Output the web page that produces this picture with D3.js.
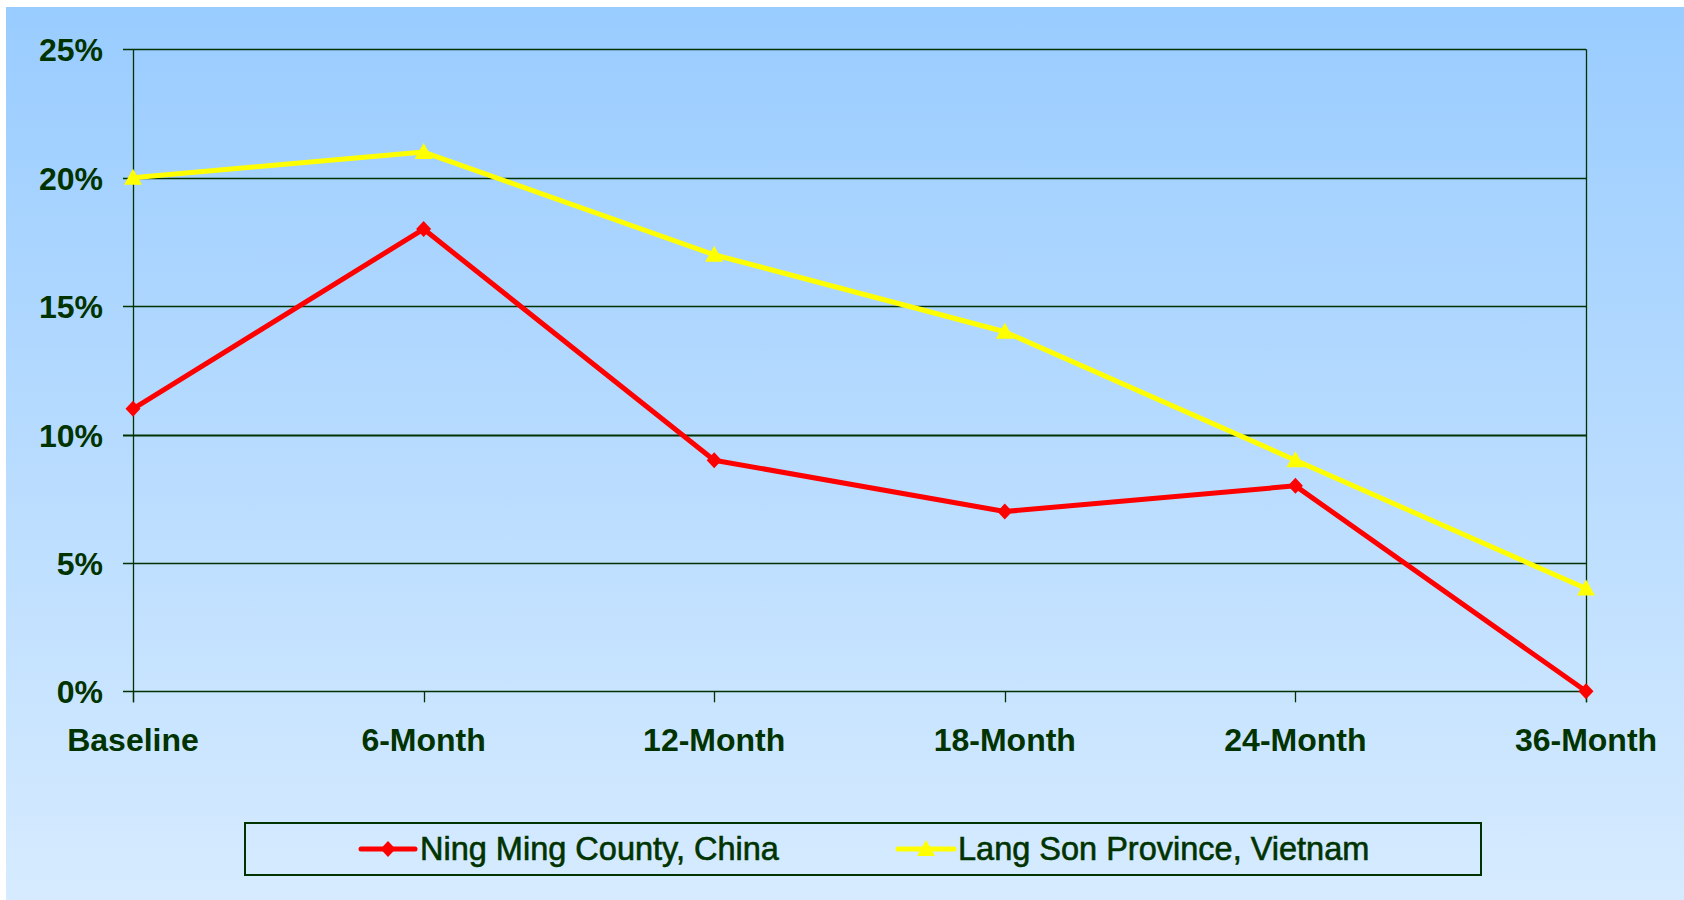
<!DOCTYPE html>
<html><head><meta charset="utf-8">
<script src="https://cdn.jsdelivr.net/npm/d3@7"></script>
<style>html,body{margin:0;padding:0;background:#fff;overflow:hidden}</style>
</head><body>
<svg id="c" width="1684" height="900"></svg>
<script>
const categories = ["Baseline","6-Month","12-Month","18-Month","24-Month","36-Month"];
const ningMing = [11, 18, 9, 7, 8, 0];
const langSon = [20, 21, 17, 14, 9, 4];
const yTicks = [0, 5, 10, 15, 20, 25];
const seriesNames = ["Ning Ming County, China", "Lang Son Province, Vietnam"];

const svg = d3.select("#c");
const ink = "#003300";
const defs = svg.append("defs");
const g = defs.append("linearGradient").attr("id","bg").attr("x1",0).attr("y1",0).attr("x2",0).attr("y2",1);
g.append("stop").attr("offset","0%").attr("stop-color","#99CCFF");
g.append("stop").attr("offset","100%").attr("stop-color","#D6EBFF");
svg.append("rect").attr("x",6).attr("y",7).attr("width",1678).attr("height",893).attr("fill","url(#bg)");

const L = 133, R = 1586, T = 49.3, B = 691.3;
const x = d3.scalePoint().domain(categories).range([L, R]).padding(0);
const y = d3.scaleLinear().domain([0, 25]).range([B, T]);

// gridlines
svg.append("g").selectAll("line").data(yTicks).join("line")
  .attr("x1", 123).attr("x2", R)
  .attr("y1", d => Math.round(y(d)) + 0.5).attr("y2", d => Math.round(y(d)) + 0.5)
  .attr("stroke", ink).attr("stroke-width", d => d === 10 ? 2 : 1.3);
// axes lines
svg.append("line").attr("x1", L + 0.5).attr("x2", L + 0.5).attr("y1", T).attr("y2", B + 11).attr("stroke", ink).attr("stroke-width", 1.3);
svg.append("line").attr("x1", R + 0.5).attr("x2", R + 0.5).attr("y1", T).attr("y2", B + 11).attr("stroke", ink).attr("stroke-width", 1.3);
svg.append("g").selectAll("line").data(categories).join("line")
  .attr("x1", d => Math.round(x(d)) + 0.5).attr("x2", d => Math.round(x(d)) + 0.5)
  .attr("y1", B).attr("y2", B + 11).attr("stroke", ink).attr("stroke-width", 1.3);

// y labels
svg.append("g").selectAll("text").data(yTicks).join("text")
  .attr("x", 103).attr("y", d => y(d) + 12)
  .attr("text-anchor", "end")
  .attr("font-family", "Liberation Sans, Arial, sans-serif").attr("font-weight", "bold").attr("font-size", 32)
  .attr("fill", ink).text(d => d + "%");
// x labels
svg.append("g").selectAll("text").data(categories).join("text")
  .attr("x", d => x(d)).attr("y", 751)
  .attr("text-anchor", "middle")
  .attr("font-family", "Liberation Sans, Arial, sans-serif").attr("font-weight", "bold").attr("font-size", 32)
  .attr("fill", ink).text(d => d);

const line = d3.line().x((d, i) => x(categories[i])).y(d => y(d));
const diamond = "M0,-8L7.5,0L0,8L-7.5,0Z";
const tri = "M0,-9L9,7L-9,7Z";

function drawSeries(vals, color, sym) {
  svg.append("path").datum(vals).attr("d", line).attr("fill", "none")
    .attr("stroke", color).attr("stroke-width", 5).attr("stroke-linejoin", "round");
  svg.append("g").selectAll("path").data(vals).join("path")
    .attr("d", sym).attr("fill", color)
    .attr("transform", (d, i) => `translate(${x(categories[i])},${y(d)})`);
}
drawSeries(langSon, "#FFFF00", tri);
drawSeries(ningMing, "#FF0000", diamond);

// legend
svg.append("rect").attr("x", 245).attr("y", 823).attr("width", 1236).attr("height", 52)
  .attr("fill", "none").attr("stroke", ink).attr("stroke-width", 2);
const leg = [
  {name: seriesNames[0], color: "#FF0000", sym: diamond, x1: 361, x2: 415, tx: 420},
  {name: seriesNames[1], color: "#FFFF00", sym: tri, x1: 898, x2: 954, tx: 958}
];
leg.forEach(d => {
  svg.append("line").attr("x1", d.x1).attr("x2", d.x2).attr("y1", 849).attr("y2", 849)
    .attr("stroke", d.color).attr("stroke-width", 5).attr("stroke-linecap", "round");
  svg.append("path").attr("d", d.sym).attr("fill", d.color)
    .attr("transform", `translate(${(d.x1 + d.x2) / 2},${849})`);
  svg.append("text").attr("x", d.tx).attr("y", 860)
    .attr("font-family", "Liberation Sans, Arial, sans-serif").attr("font-size", 32.5)
    .attr("fill", ink).attr("stroke", ink).attr("stroke-width", 0.6).text(d.name);
});
</script>
</body></html>
